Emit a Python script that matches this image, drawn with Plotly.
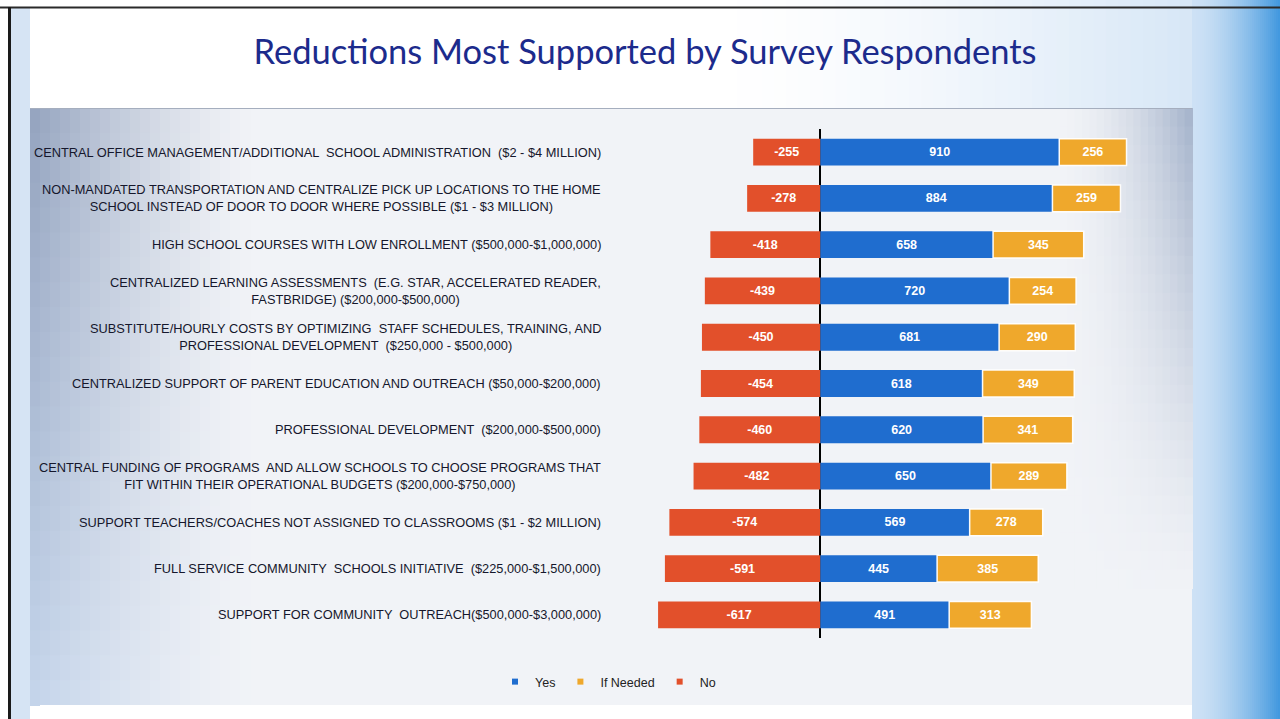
import plotly.graph_objects as go

# ---------------- data ----------------
categories = [
    "CENTRAL OFFICE MANAGEMENT/ADDITIONAL  SCHOOL ADMINISTRATION  ($2 - $4 MILLION)",
    "NON-MANDATED TRANSPORTATION AND CENTRALIZE PICK UP LOCATIONS TO THE HOME<br>SCHOOL INSTEAD OF DOOR TO DOOR WHERE POSSIBLE ($1 - $3 MILLION)",
    "HIGH SCHOOL COURSES WITH LOW ENROLLMENT ($500,000-$1,000,000)",
    "CENTRALIZED LEARNING ASSESSMENTS  (E.G. STAR, ACCELERATED READER,<br>FASTBRIDGE) ($200,000-$500,000)",
    "SUBSTITUTE/HOURLY COSTS BY OPTIMIZING  STAFF SCHEDULES, TRAINING, AND<br>PROFESSIONAL DEVELOPMENT  ($250,000 - $500,000)",
    "CENTRALIZED SUPPORT OF PARENT EDUCATION AND OUTREACH ($50,000-$200,000)",
    "PROFESSIONAL DEVELOPMENT  ($200,000-$500,000)",
    "CENTRAL FUNDING OF PROGRAMS  AND ALLOW SCHOOLS TO CHOOSE PROGRAMS THAT<br>FIT WITHIN THEIR OPERATIONAL BUDGETS ($200,000-$750,000)",
    "SUPPORT TEACHERS/COACHES NOT ASSIGNED TO CLASSROOMS ($1 - $2 MILLION)",
    "FULL SERVICE COMMUNITY  SCHOOLS INITIATIVE  ($225,000-$1,500,000)",
    "SUPPORT FOR COMMUNITY  OUTREACH($500,000-$3,000,000)",
]
yes_vals = [910, 884, 658, 720, 681, 618, 620, 650, 569, 445, 491]
ifneeded_vals = [256, 259, 345, 254, 290, 349, 341, 289, 278, 385, 313]
no_vals = [-255, -278, -418, -439, -450, -454, -460, -482, -574, -591, -617]

series_names = ["Yes", "If Needed", "No"]
series_colors = ["#1f6dcf", "#efa82c", "#e2502b"]

# ---------------- layout geometry (pixels) ----------------
W, H = 1280, 719
PL, PR, PT, PB = 610, 1188, 129, 638  # plot area in page pixels


def px(x):
    return (x - PL) / (PR - PL)


def py(y):
    return (PB - y) / (PB - PT)


def lerp(c1, c2, t):
    return "rgb(%d,%d,%d)" % tuple(round(a + (b - a) * t) for a, b in zip(c1, c2))


shapes = []


def rect(x0, y0, x1, y1, color):
    shapes.append(dict(type="rect", xref="paper", yref="paper",
                       x0=px(x0), x1=px(x1), y0=py(y1), y1=py(y0),
                       fillcolor=color, line=dict(width=0), layer="below"))


# page background tint towards the right
steps = 40
for i in range(steps):
    x0 = 700 + (1192 - 700) * i / steps
    x1 = 700 + (1192 - 700) * (i + 1) / steps
    rect(x0, 0, x1 + 1, H, lerp((255, 255, 255), (214, 230, 246), (i / steps) ** 1.5))
# right blue strip
steps = 44
for i in range(steps):
    x0 = 1192 + (W - 1192) * i / steps
    x1 = 1192 + (W - 1192) * (i + 1) / steps
    t = (i / steps) ** 1.6
    rect(x0, 0, x1 + 1, H, lerp((205, 225, 245), (62, 150, 222), t))
# left strip outside the panel
rect(10, 8, 30, H, "rgb(214,228,244)")

# panel base
BASE = (241, 243, 247)
rect(30, 108, 1192, 705, lerp(BASE, BASE, 0))
# panel left gradient (darker at the top, bluish lower down)
nx, ny = 22, 24
for i in range(nx):
    for j in range(ny):
        x0 = 30 + 220 * i / nx
        x1 = 30 + 220 * (i + 1) / nx
        y0 = 108 + 597 * j / ny
        y1 = 108 + 597 * (j + 1) / ny
        tx = (1 - i / nx) ** 1.4
        top = (150, 165, 192)
        bot = (196, 212, 234)
        edge = tuple(a + (b - a) * (j / (ny - 1)) for a, b in zip(top, bot))
        rect(x0, y0, x1 + 1, y1 + 1, lerp(BASE, edge, tx))
# panel top-right gradient
nx, ny = 18, 26
for i in range(nx):
    for j in range(ny):
        x0 = 1060 + 132 * i / nx
        x1 = 1060 + 132 * (i + 1) / nx
        y0 = 108 + 480 * j / ny
        y1 = 108 + 480 * (j + 1) / ny
        t = ((i + 1) / nx) ** 1.8 * (1 - j / ny) ** 1.2
        rect(x0, y0, x1 + 1, y1 + 1, lerp(BASE, (168, 182, 205), t))
# panel top edge
shapes.append(dict(type="line", xref="paper", yref="paper", x0=px(30), x1=px(1192),
                   y0=py(108.5), y1=py(108.5), line=dict(color="rgb(165,174,190)", width=1),
                   layer="below"))
# white strip below panel
rect(40, 705, 1192, H, "white")
# frame lines (scan border)
shapes.append(dict(type="line", xref="paper", yref="paper", x0=px(0), x1=px(W),
                   y0=py(7.5), y1=py(7.5), line=dict(color="#2a2a2a", width=2), layer="below"))
shapes.append(dict(type="line", xref="paper", yref="paper", x0=px(9.5), x1=px(9.5),
                   y0=py(7), y1=py(H), line=dict(color="#1a1a1a", width=3), layer="below"))

# ---------------- traces ----------------
fig = go.Figure()
values = [yes_vals, ifneeded_vals, no_vals]
line_widths = [0, 1.5, 0]
for name, vals, col, lw in zip(series_names, values, series_colors, line_widths):
    fig.add_trace(go.Bar(
        y=categories, x=vals, orientation="h", name=name,
        marker=dict(color=col, line=dict(color="rgba(255,255,255,0.95)", width=lw)),
        text=[str(v) for v in vals], textposition="inside", insidetextanchor="middle",
        textfont=dict(family="Liberation Sans, Arial", size=12.5,
                      color="white", weight="bold"),
        showlegend=False, hoverinfo="x+name",
    ))
# legend entries with small square swatches
for name, col in zip(series_names, series_colors):
    fig.add_trace(go.Scatter(x=[None], y=[None], mode="markers", name=name,
                             marker=dict(symbol="square", size=6, color=col),
                             showlegend=True))

# category labels (centered multi-line text, right-anchored)
annotations = []
for cat in categories:
    annotations.append(dict(
        x=0, xref="paper", y=cat, yref="y", xanchor="right", xshift=-7,
        text=cat, showarrow=False, align="center",
        font=dict(family="Liberation Sans, Arial", size=12.8, color="#15172c"),
    ))

fig.update_layout(
    width=W, height=H,
    margin=dict(l=PL, r=W - PR, t=PT, b=H - PB, pad=0),
    paper_bgcolor="white", plot_bgcolor="rgba(0,0,0,0)",
    barmode="relative", bargap=0.42,
    title=dict(text="Reductions Most Supported by Survey Respondents",
               x=645 / W, xanchor="center", xref="container",
               y=1 - 52 / H, yanchor="middle", yref="container",
               font=dict(family="Lato, Open Sans, sans-serif", size=34.5, color="#1c2b8c")),
    xaxis=dict(range=[-800, 1400], showgrid=False, showticklabels=False, ticks="",
               zeroline=True, zerolinecolor="black", zerolinewidth=2, layer="above traces",
               fixedrange=True),
    yaxis=dict(type="category", autorange="reversed", showticklabels=False, ticks="",
               showgrid=False, zeroline=False, fixedrange=True),
    legend=dict(orientation="h", x=px(608), xanchor="center", y=py(682), yanchor="middle",
                font=dict(family="Liberation Sans, Arial", size=12.5, color="#222222"),
                bgcolor="rgba(0,0,0,0)", itemwidth=30, tracegroupgap=0),
    shapes=shapes,
    annotations=annotations,
    showlegend=True,
)

fig.write_html("out.html")
